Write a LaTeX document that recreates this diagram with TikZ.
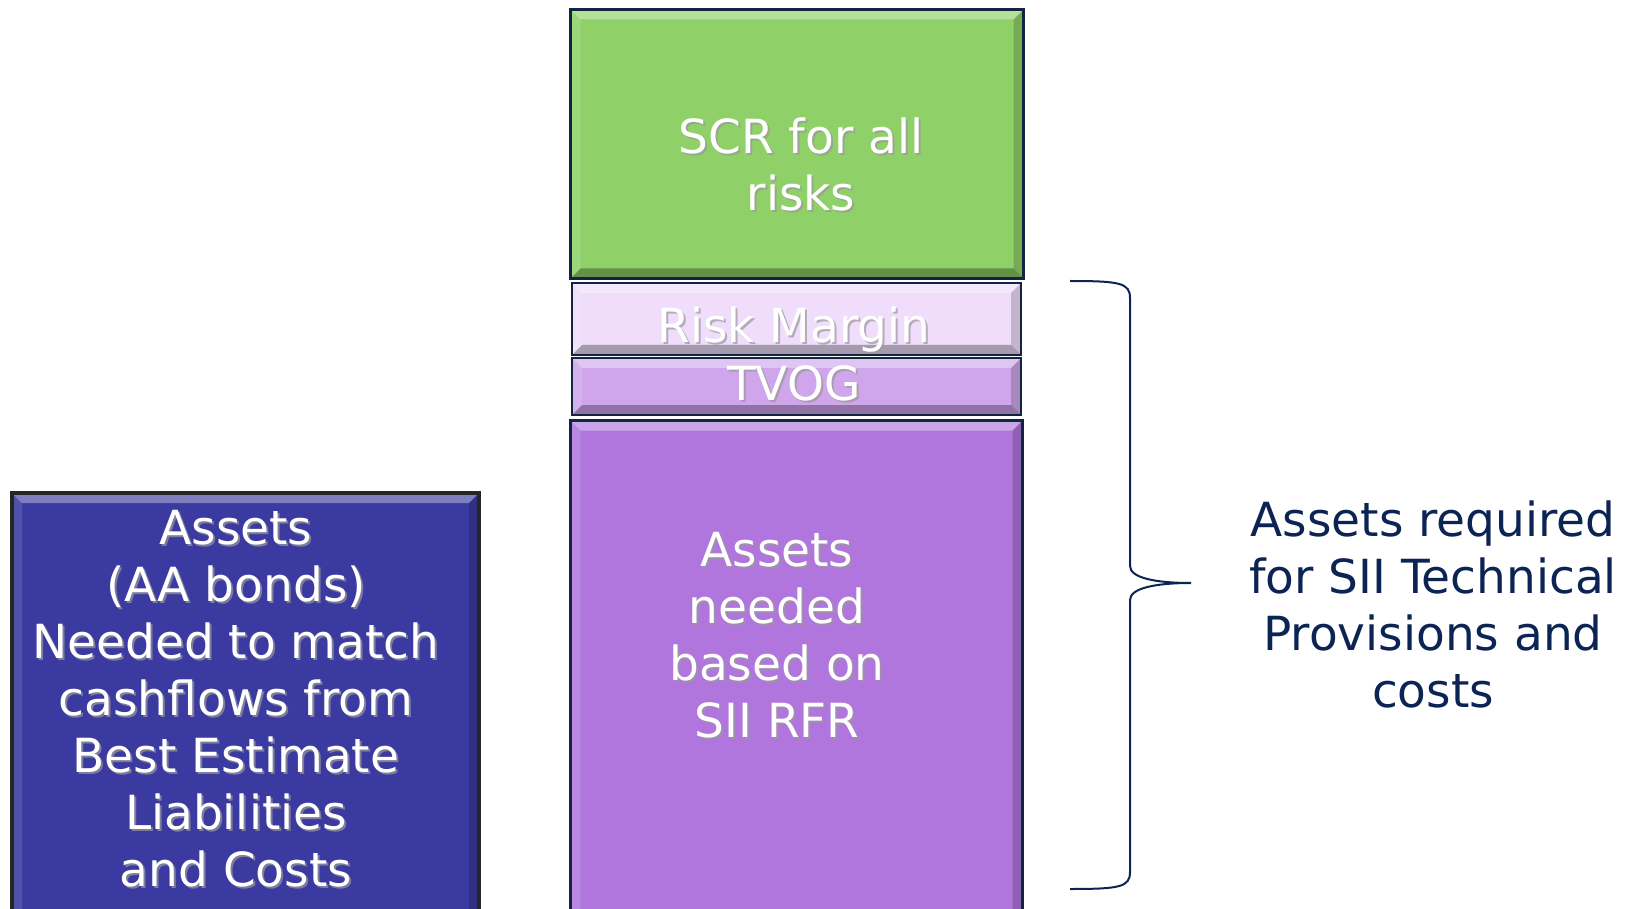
\documentclass[tikz,border=0pt]{standalone}
\usepackage{fontspec}
\setmainfont{DejaVu Sans}
\usepackage{xcolor}
\usetikzlibrary{positioning,calc}
\definecolor{scrgreen}{RGB}{143,209,104}
\definecolor{rmlilac}{RGB}{239,221,251}
\definecolor{tvoglilac}{RGB}{207,166,235}
\definecolor{bepurple}{RGB}{176,118,222}
\definecolor{aablue}{RGB}{58,58,161}
\definecolor{edgenavy}{RGB}{18,36,64}
\definecolor{textnavy}{RGB}{12,36,84}
\newcommand{\boxlabel}[3]{%
  \node[boxshade] (#1sh) at (#2) {#3};
  \node[boxtxt] (#1) at (#2) {#3};}

\begin{document}
\begin{tikzpicture}[x=1pt,y=-1pt]
  % balance-sheet blocks: SCR on top of the technical provisions
  \tikzset{bevel/.style={path picture={
      \coordinate (bl) at (path picture bounding box.south west);
      \coordinate (tr) at (path picture bounding box.north east);
      \coordinate (tl) at (bl|-tr); \coordinate (br) at (tr|-bl);
      \fill[white,opacity=.35] (tl)--(tr)--($(tr)+(-10pt,-10pt)$)--($(tl)+(10pt,-10pt)$)--cycle;
      \fill[white,opacity=.12] (tl)--($(tl)+(10pt,-10pt)$)--($(bl)+(10pt,10pt)$)--(bl)--cycle;
      \fill[black,opacity=.18] (tr)--(br)--($(br)+(-10pt,10pt)$)--($(tr)+(-10pt,-10pt)$)--cycle;
      \fill[black,opacity=.3] (bl)--(br)--($(br)+(-10pt,10pt)$)--($(bl)+(10pt,10pt)$)--cycle;}},
    blk/.style={draw=edgenavy,line width=3pt,anchor=north west,inner sep=0pt,bevel},
    boxtxt/.style={text=white,align=center,font=\fontsize{47}{57}\selectfont},
    boxshade/.style={boxtxt,text=black!40,opacity=.7,xshift=2pt,yshift=-2pt},
    sidetxt/.style={text=textnavy,align=center,font=\fontsize{47}{57}\selectfont}}
  \useasboundingbox (0,0) rectangle (1642,909);
  \clip (0,0) rectangle (1642,909);
  \node[blk,fill=scrgreen,minimum width=453pt,minimum height=269pt] (scr) at (569,8) {};
  \node[blk,fill=rmlilac,line width=2pt,minimum width=449pt,minimum height=72pt] (rm) at (571,282) {};
  \node[blk,fill=tvoglilac,line width=2pt,minimum width=449pt,minimum height=57pt] (tvog) at (571,357) {};
  \node[blk,fill=bepurple,minimum width=452pt,minimum height=520pt] (bel) at (569,419) {};
  \node[blk,fill=aablue,draw=black!85,line width=4pt,minimum width=467pt,minimum height=440pt] (aa) at (10,491) {};
  \boxlabel{scrtxt}{801,164}{SCR for all\\risks}
  \boxlabel{rmtxt}{794,330}{Risk Margin}
  \boxlabel{tvogtxt}{794,383}{TVOG}
  \boxlabel{beltxt}{777,635}{Assets\\needed\\based on\\SII RFR}
  \boxlabel{aatxt}{236,699}{Assets\\(AA bonds)\\Needed to match\\cashflows from\\Best Estimate\\Liabilities\\and Costs}
  % brace over risk margin, TVOG and best estimate
  \coordinate (brtop) at (1070,281);
  \coordinate (brtip) at (1191,583);
  \coordinate (brbot) at (1070,889);
  \draw[textnavy,line width=2pt] (brtop) .. controls +(50,0) and +(0,-15) .. (1130,298) -- (1130,566)
    .. controls +(0,12) and +(-35,0) .. (brtip) .. controls +(-35,0) and +(0,-12) .. (1130,600)
    -- (1130,872) .. controls +(0,15) and +(50,0) .. (brbot);
  \node[sidetxt] (tp) at (1433,604) {Assets required\\for SII Technical\\Provisions and\\costs};
\end{tikzpicture}
\end{document}
